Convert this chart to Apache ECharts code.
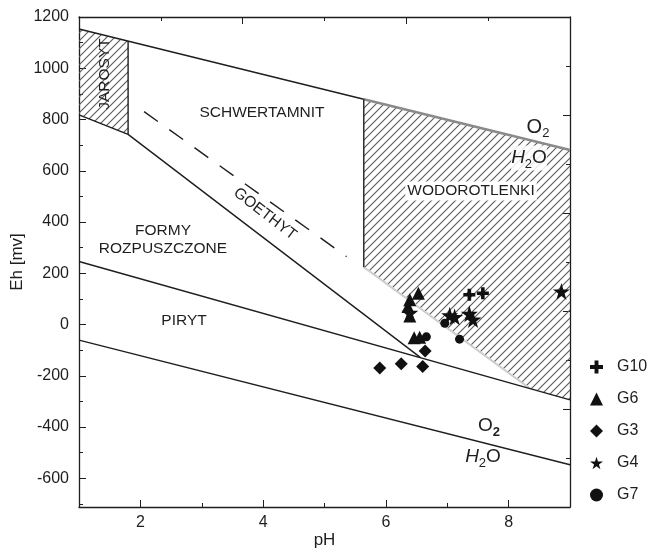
<!DOCTYPE html>
<html>
<head>
<meta charset="utf-8">
<script src="https://cdn.jsdelivr.net/npm/echarts@6/dist/echarts.min.js"></script>
<style>
html, body { margin: 0; padding: 0; background: #fff; }
#chart { width: 653px; height: 550px; }
</style>
</head>
<body>
<div id="chart"></div>
<script>
// boundaries of the Eh-pH diagram [pH, Eh]
var waterUpper = [[1, 1153], [5.64, 879], [9, 681]]
var waterLower = [[1, -61], [9, -547]]
var pirytLine = [[1, 246], [9, -294]]
var goethytLine = [[1, 818], [1.8, 742], [6.56, -128]]
var goethytDashed = [[2.06, 831], [5.36, 265]]
var jarosytEdge = [[1.8, 1106], [1.8, 742]]
var wodorotlenkiEdge = [[5.64, 879], [5.64, 224]]
var wodorotlenkiLow = [[5.64, 224], [8.35, -250]]
var jarosytArea = [[1, 1153], [1.8, 1106], [1.8, 742], [1, 818]]
var wodorotlenkiArea = [[5.64, 879], [9, 681], [9, -294], [8.35, -250], [5.64, 224]]

// samples
var g10 = [[7.36, 116], [7.58, 122]]
var g6 = [[6.53, 122], [6.39, 97], [6.36, 70], [6.39, 33], [6.46, -52], [6.55, -50]]
var g3 = [[6.64, -103], [5.90, -170], [6.25, -153], [6.60, -164]]
var g4 = [[6.39, 46], [7.04, 36], [7.12, 30], [7.36, 42], [7.42, 20], [8.86, 129]]
var g7 = [[6.96, 5], [7.20, -57], [6.66, -48]]

var xMajor = [2, 4, 6, 8]
var xMinor = [3, 5, 7]
var yMajor = [-600, -400, -200, 0, 200, 400, 600, 800, 1000, 1200]
var yMinor = [-700, -500, -300, -100, 100, 300, 500, 700, 900, 1100]

var font = '"Liberation Sans", Arial, sans-serif'
var ink = '#1e1e1e'
var yMin = -712
var yMax = 1200

// mirror axes (top / right) have their own even divisions
var topMajor = []
var topMinor = []
for (var i = 1; i < 6; i++) {
  (i % 2 === 0 ? topMajor : topMinor).push(1 + i * 8 / 6)
}
var rightMajor = []
var rightMinor = []
for (var j = 1; j < 10; j++) {
  (j % 2 === 0 ? rightMajor : rightMinor).push(yMin + j * (yMax - yMin) / 10)
}

var hatch = document.createElement('canvas')
hatch.width = 8
hatch.height = 8
var hc = hatch.getContext('2d')
hc.strokeStyle = '#5a5a5a'
hc.lineWidth = 1.1
hc.beginPath()
hc.moveTo(0, 8); hc.lineTo(8, 0)
hc.moveTo(-2, 2); hc.lineTo(2, -2)
hc.moveTo(6, 10); hc.lineTo(10, 6)
hc.stroke()
var hatchFill = { type: 'pattern', image: hatch, repeat: 'repeat' }

function tickAxis(pos, min, max, values, len, showLine) {
  return {
    type: 'value',
    position: pos,
    min: min,
    max: max,
    axisLine: { show: showLine, onZero: false, lineStyle: { color: ink, width: 1.3 } },
    axisTick: { show: true, inside: true, length: len, customValues: values, lineStyle: { color: ink } },
    axisLabel: { show: false },
    splitLine: { show: false }
  }
}

function polygonItem(points) {
  return function(params, api) {
    return {
      type: 'polygon',
      shape: { points: points.map(function(p) { return api.coord(p) }) },
      style: { fill: hatchFill, stroke: null }
    }
  }
}

function lineSeries(data, color, width, type) {
  return {
    type: 'line',
    data: data,
    symbol: 'none',
    silent: true,
    z: 3,
    lineStyle: { color: color, width: width, type: type || 'solid' }
  }
}

function scatterSeries(name, data, symbol, size) {
  return {
    name: name,
    type: 'scatter',
    data: data,
    symbol: symbol,
    symbolSize: size,
    z: 5,
    itemStyle: { color: '#111', opacity: 1 }
  }
}

function label(text, x, y, rot) {
  return {
    type: 'text', x: x, y: y, rotation: rot || 0, z: 10,
    style: { text: text, font: '15.5px ' + font, fill: ink, align: 'center', verticalAlign: 'middle' }
  }
}

var plusPath = 'path://M35,0 H65 V35 H100 V65 H65 V100 H35 V65 H0 V35 H35 Z'
var starPath = 'path://M50,0 L61,35 L98,35 L68,57 L79,91 L50,70 L21,91 L32,57 L2,35 L39,35 Z'

var bottomAxis = tickAxis('bottom', 1, 9, xMajor, 7, true)
bottomAxis.axisLabel = { show: true, customValues: xMajor, fontSize: 16, color: ink, fontFamily: font, margin: 8 }
bottomAxis.name = 'pH'
bottomAxis.nameLocation = 'middle'
bottomAxis.nameGap = 25
bottomAxis.nameMoveOverlap = false
bottomAxis.nameTextStyle = { fontSize: 17, color: ink, fontFamily: font }

var leftAxis = tickAxis('left', yMin, yMax, yMajor, 7, true)
leftAxis.axisLabel = {
  show: true, customValues: yMajor, fontSize: 16, color: ink, fontFamily: font, margin: 10,
  formatter: function(v) { return String(v) }
}
leftAxis.name = 'Eh [mv]'
leftAxis.nameLocation = 'middle'
leftAxis.nameGap = 53
leftAxis.nameMoveOverlap = false
leftAxis.nameTextStyle = { fontSize: 17, color: ink, fontFamily: font }

var option = {
  backgroundColor: '#fff',
  animation: false,
  grid: { left: 79, right: 83, top: 17, bottom: 43, outerBoundsMode: 'none' },
  xAxis: [
    bottomAxis,
    tickAxis('bottom', 1, 9, xMinor, 4, false),
    tickAxis('top', 1, 9, topMajor, 7, true),
    tickAxis('top', 1, 9, topMinor, 4, false)
  ],
  yAxis: [
    leftAxis,
    tickAxis('left', yMin, yMax, yMinor, 4, false),
    tickAxis('right', yMin, yMax, rightMajor, 7, true),
    tickAxis('right', yMin, yMax, rightMinor, 4, false)
  ],
  legend: {
    orient: 'vertical',
    left: 585,
    top: 354,
    itemWidth: 13,
    itemHeight: 13,
    itemGap: 16,
    textStyle: { fontSize: 16, color: ink, fontFamily: font, padding: [0, 0, 0, 9] },
    data: ['G10', 'G6', 'G3', 'G4', 'G7']
  },
  series: [
    { type: 'custom', renderItem: polygonItem(jarosytArea), data: [jarosytArea[0]], silent: true, z: 1 },
    { type: 'custom', renderItem: polygonItem(wodorotlenkiArea), data: [wodorotlenkiArea[0]], silent: true, z: 1 },
    lineSeries(waterUpper.slice(0, 2), ink, 1.4),
    lineSeries(waterUpper.slice(1), '#8a8a8a', 2.6),
    lineSeries(wodorotlenkiLow, '#cfcfcf', 2),
    lineSeries(waterLower, ink, 1.4),
    lineSeries(pirytLine, ink, 1.4),
    lineSeries(goethytLine, ink, 1.4),
    lineSeries(goethytDashed, ink, 1.4, [17, 14]),
    lineSeries(jarosytEdge, ink, 1.4),
    lineSeries(wodorotlenkiEdge, ink, 1.4),
    scatterSeries('G10', g10, plusPath, 12),
    scatterSeries('G6', g6, 'triangle', 13),
    scatterSeries('G3', g3, 'diamond', 13),
    scatterSeries('G4', g4, starPath, 17),
    scatterSeries('G7', g7, 'circle', 9)
  ],
  graphic: [
    label('JAROSYT', 105, 74, Math.PI / 2),
    label('SCHWERTAMNIT', 262, 113),
    label('GOETHYT', 265, 214, -Math.atan(0.767)),
    label('FORMY', 163, 231),
    label('ROZPUSZCZONE', 163, 249),
    label('PIRYT', 184, 321),
    { type: 'text', x: 471, y: 191, z: 10,
      style: { text: 'WODOROTLENKI', font: '15.5px ' + font, fill: ink, align: 'center', verticalAlign: 'middle',
        backgroundColor: '#fff', padding: [2, 2, 1, 2] } },
    { type: 'text', x: 538, y: 127, z: 10,
      style: { text: '{a|O}{b|2}', align: 'center', verticalAlign: 'middle',
        rich: { a: { fontSize: 20, fontFamily: font, fill: ink }, b: { fontSize: 13, fontFamily: font, fill: ink, padding: [12, 0, 0, 0] } } } },
    { type: 'text', x: 529, y: 158, z: 10,
      style: { text: '{h|H}{b|2}{a|O}', align: 'center', verticalAlign: 'middle', backgroundColor: 'rgba(255,255,255,0.85)',
        rich: { h: { fontSize: 19, fontStyle: 'italic', fontFamily: font, fill: ink }, a: { fontSize: 19, fontFamily: font, fill: ink }, b: { fontSize: 13, fontFamily: font, fill: ink, padding: [12, 0, 0, 0] } } } },
    { type: 'text', x: 489, y: 426, z: 10,
      style: { text: '{a|O}{b|2}', align: 'center', verticalAlign: 'middle',
        rich: { a: { fontSize: 19, fontFamily: font, fill: ink }, b: { fontSize: 13, fontWeight: 'bold', fontFamily: font, fill: ink, padding: [12, 0, 0, 0] } } } },
    { type: 'text', x: 483, y: 457, z: 10,
      style: { text: '{h|H}{b|2}{a|O}', align: 'center', verticalAlign: 'middle',
        rich: { h: { fontSize: 19, fontStyle: 'italic', fontFamily: font, fill: ink }, a: { fontSize: 19, fontFamily: font, fill: ink }, b: { fontSize: 13, fontFamily: font, fill: ink, padding: [12, 0, 0, 0] } } } }
  ]
}

var chart = echarts.init(document.getElementById('chart'))
chart.setOption(option, true)
window.addEventListener('resize', function() {
  chart.resize()
})
</script>
</body>
</html>
